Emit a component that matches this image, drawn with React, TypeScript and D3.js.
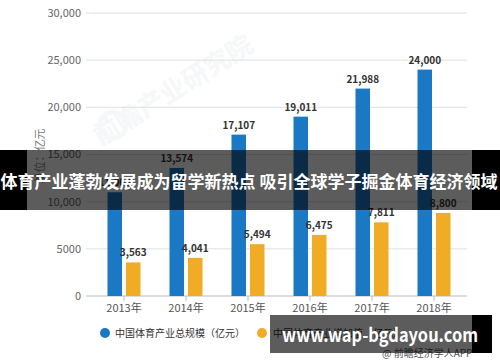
import React from "react";
import * as d3 from "d3";

const years = ["2013年", "2014年", "2015年", "2016年", "2017年", "2018年"];
const totalScale = [11000, 13574, 17107, 19011, 21988, 24000];
const addedValue = [3563, 4041, 5494, 6475, 7811, 8800];
const yTicks = [0, 5000, 10000, 15000, 20000, 25000, 30000];
const seriesNames = ["中国体育产业总规模（亿元）", "中国体育产业增加值（亿元）"];
const colors = ["#1a78c4", "#f0ac24"];

const W = 500;
const H = 362;
const FONT = "'Noto Sans CJK SC', 'Noto Sans', sans-serif";

export default function App() {
  const x = d3.scaleBand<string>().domain(years).range([93, 465]).padding(0);
  const y = d3.scaleLinear().domain([0, 30000]).range([296, 13]);
  const barW = 14.5;
  const gap = 4;
  const fmt = (v: number) => d3.format(",")(v);
  const tickFmt = (v: number) => (v === 5000 ? "5000" : d3.format(",")(v));

  return (
    <svg
      width={W}
      height={H}
      style={{ position: "absolute", left: 0, top: 0, background: "#fff" }}
      fontFamily={FONT}
    >
      <rect x={0} y={0} width={W} height={H} fill="#fff" />
      {/* watermark */}
      <g opacity={0.5}>
        <text
          x={178}
          y={98}
          transform="rotate(-32 178 98)"
          fontSize={26}
          fontWeight={700}
          fill="#eef0f3"
          textAnchor="middle"
        >
          前瞻产业研究院
        </text>
        <circle cx={113} cy={125} r={13} fill="none" stroke="#eef0f3" strokeWidth={5} />
      </g>
      {/* gridlines */}
      {yTicks.map((t) => (
        <line
          key={"g" + t}
          x1={86}
          x2={467}
          y1={y(t)}
          y2={y(t)}
          stroke={t === 0 ? "#bbb" : "#e0e0e0"}
          strokeWidth={1}
        />
      ))}
      {/* y tick labels */}
      {yTicks.map((t) => (
        <text
          key={"yl" + t}
          x={81}
          y={y(t)}
          dy="0.35em"
          textAnchor="end"
          fontSize={11}
          fill="#666"
        >
          {tickFmt(t)}
        </text>
      ))}
      {/* y axis title */}
      <text
        transform="translate(40,156) rotate(-90)"
        textAnchor="middle"
        fontSize={11}
        fill="#777"
        dy="0.35em"
      >
        单位：亿元
      </text>
      {/* x ticks and labels */}
      {years.map((yr) => {
        const cx = (x(yr) as number) + x.bandwidth() / 2;
        return (
          <g key={"x" + yr}>
            <line x1={cx} x2={cx} y1={296} y2={301} stroke="#bbb" />
            <text x={cx} y={312} textAnchor="middle" fontSize={11} fill="#555">
              {yr}
            </text>
          </g>
        );
      })}
      {/* bars */}
      {years.map((yr, i) => {
        const cx = (x(yr) as number) + x.bandwidth() / 2;
        const bx1 = cx - gap / 2 - barW;
        const bx2 = cx + gap / 2;
        return (
          <g key={"b" + yr}>
            <rect x={bx1} y={y(totalScale[i])} width={barW} height={296 - y(totalScale[i])} fill={colors[0]} />
            <rect x={bx2} y={y(addedValue[i])} width={barW} height={296 - y(addedValue[i])} fill={colors[1]} />
            <text
              x={bx1 + barW / 2}
              y={y(totalScale[i]) - 6}
              textAnchor="middle"
              fontSize={10}
              fontWeight={700}
              fill="#333"
            >
              {fmt(totalScale[i])}
            </text>
            <text
              x={bx2 + barW / 2}
              y={y(addedValue[i]) - 6}
              textAnchor="middle"
              fontSize={10}
              fontWeight={700}
              fill="#333"
            >
              {fmt(addedValue[i])}
            </text>
          </g>
        );
      })}
      {/* legend */}
      <circle cx={105} cy={333} r={5} fill={colors[0]} />
      <text x={115} y={333} dy="0.35em" fontSize={10} fill="#333">
        {seriesNames[0]}
      </text>
      <circle cx={262} cy={333} r={5} fill={colors[1]} />
      <text x={273} y={333} dy="0.35em" fontSize={10} fill="#333">
        {seriesNames[1]}
      </text>
      <text x={382} y={357} fontSize={10} fill="#555">
        @ 前瞻经济学人APP
      </text>
      {/* title banner */}
      <rect x={0} y={150} width={27} height={60} fill="#000" />
      <rect x={472} y={150} width={28} height={60} fill="#000" />
      <rect x={27} y={150} width={445} height={60} fill="#000" opacity={0.64} />
      <text
        x={249}
        y={182}
        dy="0.35em"
        textAnchor="middle"
        fontSize={17}
        fontWeight={700}
        fill="#fff"
      >
        体育产业蓬勃发展成为留学新热点 吸引全球学子掘金体育经济领域
      </text>
      {/* bottom banner */}
      <rect x={472} y={315} width={20} height={38} fill="#000" />
      <rect x={270} y={315} width={202} height={38} fill="#000" opacity={0.64} />
      <text
        x={282}
        y={335}
        dy="0.35em"
        fontSize={19}
        fontWeight={700}
        fill="#fff"
        textLength={196}
        lengthAdjust="spacingAndGlyphs"
      >
        www.wap-bgdayou.com
      </text>
    </svg>
  );
}
